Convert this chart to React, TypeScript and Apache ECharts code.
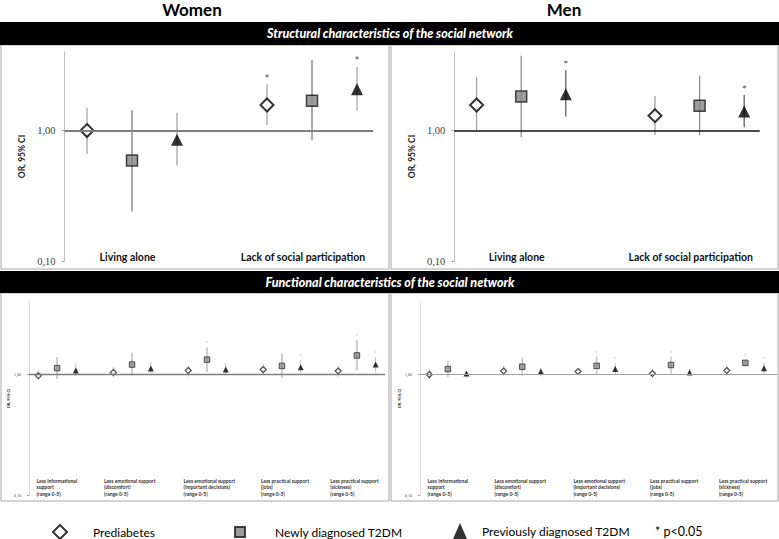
import React, { useEffect, useRef } from 'react';
import * as echarts from 'echarts';

// [OR, lower 95% CI, upper 95% CI, significant p<0.05 (1/0)]
type Est = [number, number, number, number];

const groupNames = ['Prediabetes', 'Newly diagnosed T2DM', 'Previously diagnosed T2DM'];
const topCategories = ['Living alone', 'Lack of social participation'];
const bottomCategories = [
  'Less informational\nsupport\n(range 0-5)',
  'Less emotional support\n(discomfort)\n(range 0-5)',
  'Less emotional support\n(important decisions)\n(range 0-5)',
  'Less practical support\n(jobs)\n(range 0-5)',
  'Less practical support\n(sickness)\n(range 0-5)',
];
const yTicks = [0.1, 1];

// Structural characteristics – Women
const womenStructPre: Est[] = [[1.0, 0.66, 1.5, 0], [1.57, 1.1, 2.26, 1]];
const womenStructNew: Est[] = [[0.59, 0.24, 1.43, 0], [1.69, 0.84, 3.49, 0]];
const womenStructPrev: Est[] = [[0.85, 0.54, 1.37, 0], [2.07, 1.42, 3.07, 1]];
// Structural characteristics – Men
const menStructPre: Est[] = [[1.57, 1.0, 2.57, 0], [1.3, 0.93, 1.84, 0]];
const menStructNew: Est[] = [[1.82, 0.89, 3.74, 0], [1.55, 0.92, 2.64, 0]];
const menStructPrev: Est[] = [[1.9, 1.28, 2.9, 1], [1.4, 1.06, 1.87, 1]];
// Functional characteristics – Women
const womenFuncPre: Est[] = [[0.98, 0.92, 1.08, 0], [1.04, 0.94, 1.15, 0], [1.08, 0.96, 1.19, 0], [1.1, 1.01, 1.22, 0], [1.07, 0.95, 1.18, 0]];
const womenFuncNew: Est[] = [[1.13, 0.92, 1.39, 0], [1.21, 0.98, 1.52, 0], [1.33, 1.05, 1.68, 1], [1.18, 0.94, 1.49, 0], [1.44, 1.08, 1.94, 1]];
const womenFuncPrev: Est[] = [[1.08, 0.98, 1.23, 0], [1.12, 0.98, 1.26, 0], [1.1, 0.98, 1.25, 0], [1.15, 1.03, 1.31, 1], [1.21, 1.04, 1.39, 1]];
// Functional characteristics – Men
const menFuncPre: Est[] = [[1.0, 0.92, 1.11, 0], [1.07, 0.97, 1.19, 0], [1.06, 1.0, 1.1, 0], [1.02, 0.94, 1.12, 0], [1.08, 0.97, 1.19, 0]];
const menFuncNew: Est[] = [[1.11, 0.95, 1.3, 0], [1.16, 0.97, 1.39, 0], [1.18, 1.0, 1.41, 1], [1.2, 1.0, 1.41, 1], [1.25, 1.17, 1.33, 1]];
const menFuncPrev: Est[] = [[1.02, 0.94, 1.07, 0], [1.06, 0.96, 1.13, 0], [1.11, 1.0, 1.24, 1], [1.04, 0.96, 1.12, 0], [1.13, 1.0, 1.25, 1]];

const topLabelPos = [1.9, 5.8];
const bottomLabelPos = [0.9, 4.5, 8.75, 12.87, 16.58];

const diamond = 'path://M0,-10L10,0L0,10L-10,0Z';
const symbols = [diamond, 'rect', 'triangle'];
const SANS = 'Lato, "Noto Sans", sans-serif';
const SERIF = '"Liberation Serif", "DejaVu Serif", serif';

const posOf = (g: number, m: number) => 1 + 4 * g + m;

interface Panel {
  grid: any;
  xMax: number;
  data: Est[][];
  labels: string[];
  labelPos: number[];
  big: boolean;
  refColor: string;
  refWidth: number;
  ci: { color: string; width: number }[];
  nameGap: number;
}

const panels: Panel[] = [
  {
    grid: { left: 64.5, top: 52, width: 308.7, height: 209 }, xMax: 7.36,
    data: [womenStructPre, womenStructNew, womenStructPrev], labels: topCategories, labelPos: topLabelPos,
    big: true, refColor: '#7f7f7f', refWidth: 2,
    ci: [{ color: '#8a8a8a', width: 1 }, { color: '#555', width: 1 }, { color: '#8a8a8a', width: 1 }], nameGap: 38,
  },
  {
    grid: { left: 454.3, top: 52, width: 305.5, height: 209 }, xMax: 7.35,
    data: [menStructPre, menStructNew, menStructPrev], labels: topCategories, labelPos: topLabelPos,
    big: true, refColor: '#111', refWidth: 1.5,
    ci: [{ color: '#a0a0a0', width: 1.3 }, { color: '#909090', width: 1.3 }, { color: '#606060', width: 1.3 }], nameGap: 38,
  },
  {
    grid: { left: 29, top: 302, width: 356, height: 193 }, xMax: 19.5,
    data: [womenFuncPre, womenFuncNew, womenFuncPrev], labels: bottomCategories, labelPos: bottomLabelPos,
    big: false, refColor: '#7f7f7f', refWidth: 1.3,
    ci: [{ color: '#b0b0b0', width: 0.8 }, { color: '#cfcfcf', width: 2.2 }, { color: '#b0b0b0', width: 0.8 }], nameGap: 17,
  },
  {
    grid: { left: 420, top: 302, width: 357, height: 193 }, xMax: 19.7,
    data: [menFuncPre, menFuncNew, menFuncPrev], labels: bottomCategories, labelPos: bottomLabelPos,
    big: false, refColor: '#a0a0a0', refWidth: 1,
    ci: [{ color: '#b0b0b0', width: 0.8 }, { color: '#c8c8c8', width: 1.6 }, { color: '#b0b0b0', width: 0.8 }], nameGap: 15,
  },
];

function buildOption() {
  const grids: any[] = [];
  const xAxes: any[] = [];
  const yAxes: any[] = [];
  const series: any[] = [];

  panels.forEach((p, pi) => {
    grids.push(p.grid);
    xAxes.push({
      type: 'value', gridIndex: pi, min: 0.5, max: p.xMax,
      axisLine: { show: false }, axisTick: { show: false }, splitLine: { show: false },
      axisLabel: {
        customValues: p.labelPos,
        formatter: (v: number) => {
          let best = 0;
          p.labelPos.forEach((lp, i) => { if (Math.abs(lp - v) < Math.abs(p.labelPos[best] - v)) best = i; });
          return p.labels[best];
        },
        align: p.big ? 'center' : 'left',
        verticalAlign: 'middle',
        margin: p.big ? -4 : -8,
        fontFamily: SANS,
        fontWeight: 'bold',
        fontSize: p.big ? 10.5 : 5,
        lineHeight: p.big ? 12 : 6.5,
        color: p.big ? '#111' : '#333',
        hideOverlap: false,
      },
    });
    yAxes.push({
      type: 'log', logBase: 10, gridIndex: pi, min: 0.1, max: 4,
      name: 'OR, 95% CI', nameLocation: 'middle', nameGap: p.nameGap,
      nameTextStyle: { fontFamily: SANS, fontWeight: 'bold', fontSize: p.big ? 8.5 : 3.8, color: '#222' },
      axisLine: { show: true, lineStyle: { color: p.big ? '#c0c0c0' : '#dcdcdc', width: 1 } },
      axisTick: { show: true, customValues: yTicks, length: p.big ? 3 : 2, lineStyle: { color: '#a0a0a0' } },
      splitLine: { show: false },
      axisLabel: {
        customValues: yTicks,
        formatter: (v: number) => v.toFixed(2).replace('.', ','),
        margin: p.big ? 9 : 8,
        fontFamily: SERIF,
        fontSize: p.big ? 10.5 : 4,
        color: '#404040',
      },
    });

    const ciData: number[][] = [];
    const stars: number[][] = [];
    p.data.forEach((arr, m) => {
      arr.forEach((e, g) => {
        ciData.push([posOf(g, m), e[1], e[2], m]);
        if (e[3]) stars.push([posOf(g, m), e[2]]);
      });
    });

    series.push({
      type: 'scatter', xAxisIndex: pi, yAxisIndex: pi, z: 1, silent: true,
      symbolSize: 0.1, itemStyle: { color: 'transparent' },
      data: stars,
      label: {
        show: true, position: 'top', distance: p.big ? 0 : 1.5, formatter: '*',
        fontFamily: SANS, fontSize: p.big ? 12 : 5, color: p.big ? '#222' : '#777',
      },
      markLine: {
        silent: true, symbol: ['none', 'none'], label: { show: false },
        lineStyle: { color: p.refColor, width: p.refWidth, type: 'solid' },
        data: [{ yAxis: 1 }],
      },
    });

    series.push({
      type: 'custom', xAxisIndex: pi, yAxisIndex: pi, z: 2, silent: true,
      data: ciData, encode: { x: 0, y: [1, 2] },
      renderItem: (_params: any, api: any) => {
        const x = api.value(0);
        const m = api.value(3);
        const a = api.coord([x, api.value(1)]);
        const b = api.coord([x, api.value(2)]);
        return {
          type: 'line',
          shape: { x1: a[0], y1: a[1], x2: b[0], y2: b[1] },
          style: { stroke: p.ci[m].color, lineWidth: p.ci[m].width },
        };
      },
    });

    const sizes = p.big ? [13, 11, 12] : [6, 5.5, 6];
    const styles = p.big
      ? [
          { color: '#fff', borderColor: '#000', borderWidth: 2 },
          { color: '#858585', borderColor: '#1a1a1a', borderWidth: 1.5 },
          { color: '#000' },
        ]
      : [
          { color: '#fff', borderColor: '#222', borderWidth: 1.2 },
          { color: '#8c8c8c', borderColor: '#333', borderWidth: 1 },
          { color: '#000' },
        ];
    p.data.forEach((arr, m) => {
      series.push({
        type: 'scatter', name: groupNames[m], xAxisIndex: pi, yAxisIndex: pi, z: 3, silent: true,
        symbol: symbols[m], symbolSize: sizes[m], itemStyle: styles[m],
        data: arr.map((e, g) => [posOf(g, m), e[0]]),
      });
    });
  });

  const banner = (y: number, h: number, text: string) => [
    { type: 'rect', shape: { x: 0, y, width: 779, height: h }, style: { fill: '#000' }, silent: true },
    {
      type: 'text', x: 390, y: y + h / 2, silent: true,
      style: {
        text, fill: '#fff', fontFamily: SANS, fontSize: 12.5, fontWeight: 900, fontStyle: 'italic',
        textAlign: 'center', textVerticalAlign: 'middle', align: 'center', verticalAlign: 'middle',
      },
    },
  ];
  const frame = (x: number, y: number, w: number, h: number) => ({
    type: 'rect', shape: { x, y, width: w, height: h }, silent: true, z: -1,
    style: { fill: 'none', stroke: '#a6a6a6', lineWidth: 1 },
  });
  const title = (x: number, text: string) => ({
    type: 'text', x, y: 9, silent: true,
    style: {
      text, fill: '#000', fontFamily: SANS, fontSize: 17, fontWeight: 'bold',
      textAlign: 'center', textVerticalAlign: 'middle', align: 'center', verticalAlign: 'middle',
    },
  });

  const legendBase = {
    orient: 'horizontal', padding: 0, selectedMode: false,
    textStyle: { fontFamily: SANS, fontSize: 12, color: '#000' },
  };

  return {
    animation: false,
    backgroundColor: '#fff',
    grid: grids,
    xAxis: xAxes,
    yAxis: yAxes,
    series,
    legend: [
      { ...legendBase, data: [groupNames[0]], left: 52, top: 524, itemWidth: 14, itemHeight: 14,
        textStyle: { ...legendBase.textStyle, padding: [0, 0, 0, 21] } },
      { ...legendBase, data: [groupNames[1]], left: 234, top: 526, itemWidth: 10, itemHeight: 10,
        textStyle: { ...legendBase.textStyle, padding: [0, 0, 0, 25] } },
      { ...legendBase, data: [groupNames[2]], left: 453, top: 523, itemWidth: 14, itemHeight: 16,
        textStyle: { ...legendBase.textStyle, padding: [0, 0, 0, 10] } },
    ],
    graphic: [
      title(192, 'Women'),
      title(564, 'Men'),
      ...banner(22, 23, 'Structural characteristics of the social network'),
      ...banner(271, 22, 'Functional characteristics of the social network'),
      frame(1, 45, 388, 224),
      frame(391, 45, 387, 224),
      frame(1, 293, 388, 208),
      frame(391, 293, 387, 208),
      {
        type: 'text', x: 655, y: 531, silent: true,
        style: {
          text: '* p<0.05', fill: '#000', fontFamily: SANS, fontSize: 12.5,
          textAlign: 'left', textVerticalAlign: 'middle', align: 'left', verticalAlign: 'middle',
        },
      },
    ],
  };
}

export default function App() {
  const ref = useRef<HTMLDivElement>(null);
  useEffect(() => {
    document.body.style.margin = '0';
    if (!ref.current) return;
    const chart = echarts.init(ref.current, null, { renderer: 'svg' });
    chart.setOption(buildOption() as any);
    return () => chart.dispose();
  }, []);
  return <div ref={ref} style={{ width: 779, height: 539 }} />;
}
